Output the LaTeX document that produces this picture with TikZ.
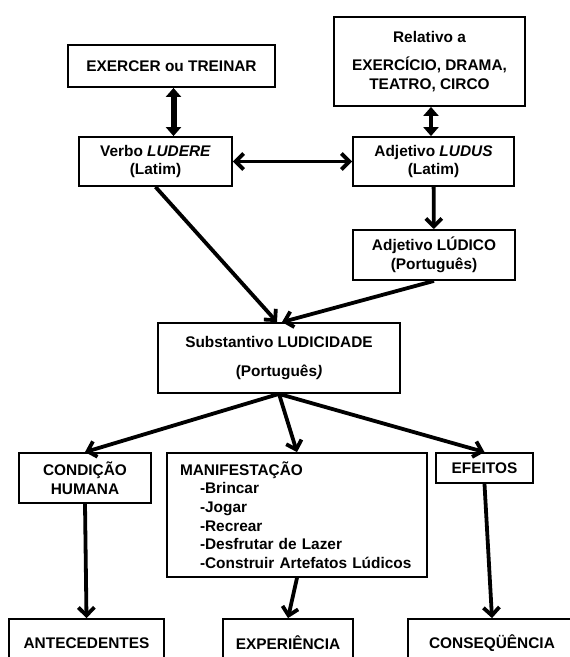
\documentclass[tikz,border=0pt]{standalone}
\usepackage{fontspec}
\setmainfont{Liberation Sans}
\usetikzlibrary{arrows.meta}

\begin{document}
\begin{tikzpicture}[x=1pt, y=-1pt,
	caixa/.style={draw, line width=1.8pt, align=center, inner sep=0pt, font=\fontsize{15.4}{18.7}\selectfont\bfseries},
	seta/.style={line width=3.8pt, -{Straight Barb[length=8pt,width=16pt]}},
	setadupla/.style={line width=3.8pt, {Straight Barb[length=8pt,width=16pt]}-{Straight Barb[length=8pt,width=16pt]}},
	setagrossa/.style={line width=#1, {Triangle[length=9pt,width=15pt]}-{Triangle[length=9pt,width=15pt]}}]
	\clip (0,0) rectangle (570,657);

	% origem
	\node[caixa, minimum width=207pt, minimum height=42pt] (exercer) at (171.5,66) {EXERCER ou TREINAR};
	\node[caixa, minimum width=191pt, minimum height=89pt] (relativo) at (429.5,61.5) {Relativo a\\[10pt]EXERCÍCIO, DRAMA,\\TEATRO, CIRCO};
	\node[caixa, minimum width=153pt, minimum height=49pt] (verbo) at (155.5,161.5) {Verbo \textit{LUDERE}\\(Latim)};
	\node[caixa, minimum width=161pt, minimum height=49pt] (ludus) at (433.5,161.5) {Adjetivo \textit{LUDUS}\\(Latim)};
	\node[caixa, minimum width=162pt, minimum height=50pt] (ludico) at (434,255) {Adjetivo LÚDICO\\(Português)};
	\node[caixa, minimum width=242pt, minimum height=70pt] (subst) at (279,358) {Substantivo LUDICIDADE\\[11pt](Português\textit{)}};

	% desdobramentos
	\node[caixa, minimum width=132pt, minimum height=50pt] (condicao) at (85,478) {CONDIÇÃO\\HUMANA};
	\node[caixa, minimum height=124pt, text width=234pt, inner xsep=13pt, align=left] (manif) at (297,515)
		{MANIFESTAÇÃO\\\hspace*{20pt}-Brincar\\\hspace*{20pt}-Jogar\\\hspace*{20pt}-Recrear\\\hspace*{20pt}-Desfrutar de Lazer\\\hspace*{20pt}-Construir Artefatos Lúdicos};
	\node[caixa, minimum width=97pt, minimum height=30pt] (efeitos) at (484.5,468) {EFEITOS};

	\node[caixa, minimum width=155pt, minimum height=48pt] (antec) at (86.5,643) {ANTECEDENTES};
	\node[caixa, minimum width=130pt, minimum height=48pt] (exper) at (288,643) {EXPERIÊNCIA};
	\node[caixa, minimum width=168pt, minimum height=48pt] (conseq) at (492,643) {CONSEQÜÊNCIA};

	\draw[setagrossa=6pt] ([xshift=2pt]exercer.south) -- ([xshift=2pt]exercer.south |- verbo.north); % exercer <-> verbo
	\draw[setagrossa=4.5pt] ([xshift=1.5pt]relativo.south) -- ([xshift=1.5pt]relativo.south |- ludus.north); % relativo <-> ludus
	\draw[setadupla] (verbo) -- (ludus);
	\draw[seta] (ludus) -- (ludico);
	\draw[seta] (verbo.south) -- ([xshift=-2pt]subst.north);
	\draw[seta] (ludico.south) -- ([xshift=3pt]subst.north);

	\draw[seta] (subst.south) -- (condicao.north);
	\draw[seta] (subst.south) -- (manif.north);
	\draw[seta] (subst.south) -- (efeitos.north);

	\draw[seta] (condicao.south) -- (antec.north);
	\draw[seta] (manif.south) -- (exper.north);
	\draw[seta] (efeitos.south) -- (conseq.north);
\end{tikzpicture}
\end{document}
